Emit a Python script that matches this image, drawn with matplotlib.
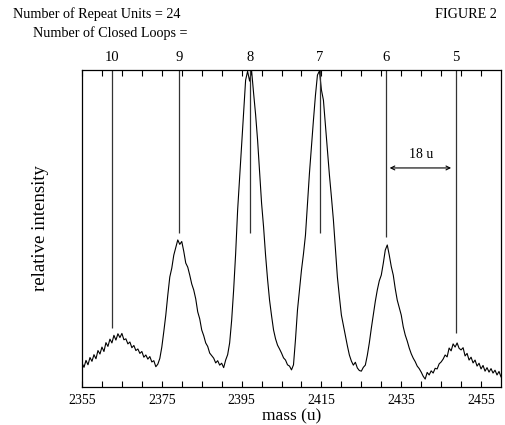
import matplotlib
matplotlib.use("Agg")
import matplotlib.pyplot as plt
import numpy as np

plt.rcParams['font.family'] = ['Liberation Serif', 'DejaVu Serif']

# mass scale, 0.5 u steps from 2355 to 2460
mass = np.arange(2355.0, 2460.01, 0.5)
# relative intensity (percent of full scale)
intensity = [
    7.6, 6.2, 8.4, 7.0, 9.3, 8.1, 10.2, 8.9, 11.5, 10.4,
    12.6, 11.2, 14.0, 12.8, 15.1, 13.9, 16.3, 14.8, 16.8, 15.6,
    16.9, 14.9, 15.2, 13.6, 14.2, 12.4, 13.1, 11.5, 12.0, 10.6,
    11.2, 9.4, 10.1, 8.8, 9.6, 7.9, 8.3, 6.4, 7.2, 9.0,
    12.6, 17.5, 22.7, 29.0, 34.7, 37.5, 41.6, 44.0, 46.4, 45.0,
    45.9, 42.8, 39.1, 37.8, 35.3, 32.5, 30.6, 27.8, 23.7, 21.5,
    18.0, 16.2, 13.9, 12.8, 10.7, 9.9, 9.1, 7.6, 8.3, 6.9,
    7.5, 6.1, 8.5, 10.2, 13.9, 21.0, 30.6, 42.0, 55.8, 66.0,
    76.3, 86.5, 96.8, 99.6, 96.5, 99.8, 92.7, 86.0, 77.9, 68.0,
    58.0, 50.5, 41.6, 34.0, 27.4, 22.5, 18.0, 15.2, 13.2, 12.0,
    10.7, 9.2, 8.5, 7.0, 6.6, 5.4, 7.0, 15.0, 24.3, 30.5,
    36.9, 42.0, 47.9, 57.5, 67.5, 76.0, 84.2, 92.0, 98.4, 99.7,
    93.7, 90.5, 82.6, 75.0, 66.9, 60.0, 52.7, 43.5, 34.7, 28.5,
    22.7, 19.5, 16.4, 13.0, 10.1, 8.2, 6.9, 7.8, 6.0, 5.2,
    5.0, 6.2, 6.9, 10.0, 13.9, 18.5, 22.7, 27.0, 30.6, 33.5,
    35.3, 39.0, 43.2, 44.8, 41.6, 38.0, 35.3, 31.0, 27.4, 25.0,
    22.7, 19.0, 16.4, 14.5, 12.3, 10.5, 9.1, 8.0, 6.6, 5.8,
    4.7, 3.4, 2.5, 4.6, 3.8, 5.1, 4.4, 5.9, 5.7, 7.3,
    7.9, 8.8, 10.1, 9.5, 12.3, 11.4, 13.6, 12.6, 13.9, 12.2,
    11.7, 12.4, 9.8, 10.6, 8.5, 9.4, 7.6, 8.5, 6.6, 7.5,
    5.7, 6.8, 5.0, 6.1, 4.7, 5.8, 4.4, 5.3, 3.8, 4.9,
    3.2,
]

# closed-loop markers
loops = ['10', '9', '8', '7', '6', '5']
loop_mass = [2362.6, 2379.3, 2397.1, 2414.6, 2431.2, 2448.7]
loop_end = [18.6, 48.6, 48.6, 48.6, 47.3, 17.0]

xticks = [2355, 2375, 2395, 2415, 2435, 2455]

fig = plt.figure(figsize=(5.05, 4.25), dpi=100)
ax = fig.add_axes([82/505, 1-387/425, 419/505, 317/425])

ax.plot(mass, intensity, color='black', lw=0.8)
ax.vlines(loop_mass, loop_end, 100, color='#333333', lw=0.9)
for lab, m in zip(loops, loop_mass):
    ax.text(m, 1.04, lab, transform=ax.get_xaxis_transform(),
            ha='center', va='center', fontsize=10.5)

ax.annotate('', xy=(2447.5, 69.1), xytext=(2432.1, 69.1),
            arrowprops=dict(arrowstyle='<->', lw=0.8, color='black',
                            shrinkA=0, shrinkB=0, mutation_scale=7))
ax.text(2440, 73.5, '18 u', ha='center', va='center', fontsize=10)

ax.set_xlim(2355, 2460)
ax.set_ylim(0, 100)
ax.set_xticks(xticks)
ax.set_xticks(np.arange(2355, 2460, 5), minor=True)
ax.set_yticks([])
ax.tick_params(axis='x', which='both', direction='in', top=True,
               length=4, width=0.8, labelsize=10, pad=5)
for s in ax.spines.values():
    s.set_linewidth(0.9)
ax.set_xlabel('mass (u)', fontsize=12.5, labelpad=1)
ax.set_ylabel('relative intensity', fontsize=13.5, labelpad=24)

fig.text(13/505, 1-14/425, 'Number of Repeat Units = 24', fontsize=10.2,
         ha='left', va='center')
fig.text(497/505, 1-14/425, 'FIGURE 2', fontsize=10.2, ha='right', va='center')
fig.text(33/505, 1-33/425, 'Number of Closed Loops =', fontsize=10.2,
         ha='left', va='center')

fig.savefig('out.png', dpi=100)
